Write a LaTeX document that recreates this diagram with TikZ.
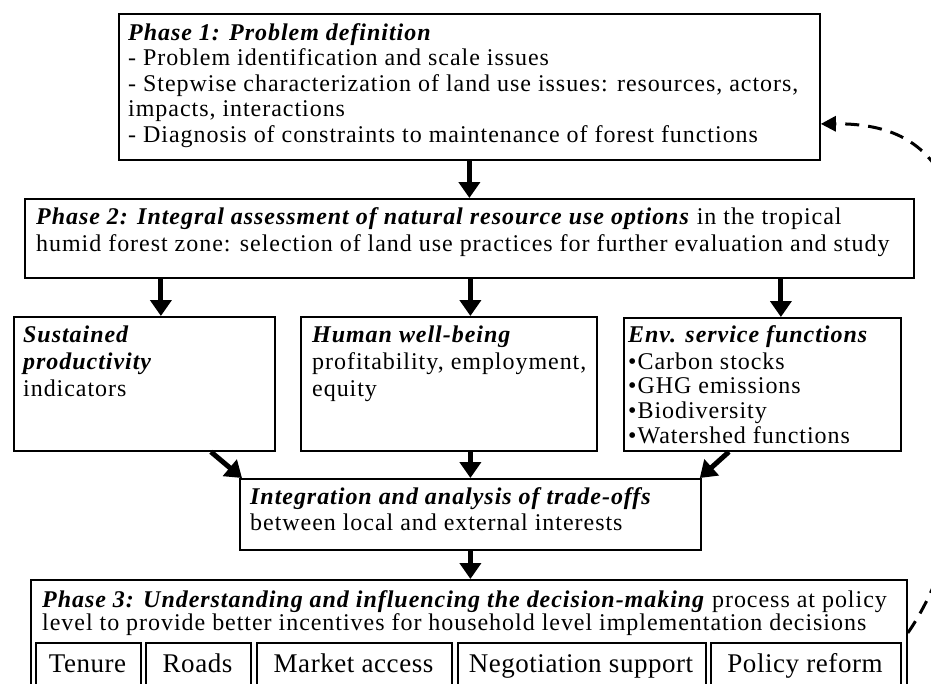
\documentclass[tikz,border=0pt]{standalone}
\usepackage{fontspec}
\setmainfont{Liberation Serif}[LetterSpace=4]
\usetikzlibrary{arrows.meta}
\newcommand{\bi}[1]{\textbf{\textit{#1}}}
\begin{document}
\begin{tikzpicture}[x=1pt,y=-1pt,
  box/.style={draw, line width=1.8pt, inner sep=0pt, anchor=north west},
  txt/.style={anchor=base west, inner sep=0pt, font=\fontsize{24}{27}\selectfont},
  subt/.style={anchor=base, inner sep=0pt, font=\fontsize{27}{30}\selectfont\addfontfeatures{LetterSpace=2}},
  arr/.style={line width=5pt, -{Triangle[width=21pt,length=16pt]}},
  darr/.style={line width=3pt, dash pattern=on 14pt off 9pt, -{Triangle[width=15pt,length=15pt]}}]
\useasboundingbox (0,0) rectangle (931,683);
\clip (0,0) rectangle (931,683);
\fill[white] (0,0) rectangle (931,683);
% boxes
\node[box, minimum width=701pt, minimum height=146pt] (p1) at (118,13) {};
\node[box, minimum width=889pt, minimum height=79pt] (p2) at (24,198) {};
\node[box, minimum width=261pt, minimum height=134pt] (sp) at (13,316) {};
\node[box, minimum width=296pt, minimum height=134pt] (hw) at (300,316) {};
\node[box, minimum width=277pt, minimum height=133pt] (es) at (623,317) {};
\node[box, minimum width=461pt, minimum height=71pt] (ia) at (239,478) {};
\node[box, minimum width=876pt, minimum height=140pt] (p3) at (30,579) {};
\node[box, minimum width=105pt, minimum height=70pt] (tn) at (35,642) {};
\node[box, minimum width=105pt, minimum height=70pt] (rd) at (145,642) {};
\node[box, minimum width=195pt, minimum height=70pt] (ma) at (256,642) {};
\node[box, minimum width=248pt, minimum height=70pt] (ns) at (457,642) {};
\node[box, minimum width=190pt, minimum height=70pt] (pr) at (710,642) {};
% texts
\node[txt] (p1a) at (128,40) {\bi{Phase 1: Problem definition}};
\node[txt] (p1b) at (128,65.5) {- Problem identification and scale issues};
\node[txt] (p1c) at (128,91) {- Stepwise characterization of land use issues: resources, actors,};
\node[txt] (p1d) at (128,116.5) {impacts, interactions};
\node[txt] (p1e) at (128,142) {- Diagnosis of constraints to maintenance of forest functions};
\node[txt] (p2a) at (36,224) {\bi{Phase 2: Integral assessment of natural resource use options} in the tropical};
\node[txt] (p2b) at (36,251) {humid forest zone: selection of land use practices for further evaluation and study};
\node[txt] (spa) at (23,342) {\bi{Sustained}};
\node[txt] (spb) at (23,369) {\bi{productivity}};
\node[txt] (spc) at (23,396) {indicators};
\node[txt] (hwa) at (312,342) {\bi{Human well-being}};
\node[txt] (hwb) at (312,369) {profitability, employment,};
\node[txt] (hwc) at (312,396) {equity};
\node[txt] (esa) at (628,342) {\bi{Env. service functions}};
\node[txt] (esb) at (628,369) {•Carbon stocks};
\node[txt] (esc) at (628,393) {•GHG emissions};
\node[txt] (esd) at (628,418) {•Biodiversity};
\node[txt] (ese) at (628,443) {•Watershed functions};
\node[txt] (iaa) at (250,504) {\bi{Integration and analysis of trade-offs}};
\node[txt] (iab) at (250,530) {between local and external interests};
\node[txt] (p3a) at (42,607) {\bi{Phase 3: Understanding and influencing the decision-making} process at policy};
\node[txt] (p3b) at (42,630) {level to provide better incentives for household level implementation decisions};
\node[subt] (tnt) at (87.5,672) {Tenure};
\node[subt] (rdt) at (197.5,672) {Roads};
\node[subt] (mat) at (353.5,672) {Market access};
\node[subt] (nst) at (581,672) {Negotiation support};
\node[subt] (prt) at (805,672) {Policy reform};
% arrows
\draw[arr] (p1.south) -- (p1.south |- p2.north);
\draw[arr] ([xshift=16.5pt]sp.north |- p2.south) -- ([xshift=16.5pt]sp.north);
\draw[arr] (ia.north |- p2.south) -- (ia.north |- hw.north);
\draw[arr] ([xshift=18.5pt]es.north |- p2.south) -- ([xshift=18.5pt]es.north);
\draw[arr] ([xshift=66.5pt]sp.south) -- ([xshift=3pt]ia.north west);
\draw[arr] ([xshift=-33.5pt]es.south) -- ([xshift=-2pt]ia.north east);
\draw[arr] (ia.north |- hw.south) -- (ia.north);
\draw[arr] (ia.south) -- (ia.south |- p3.north);
\coordinate (bulge) at (975,380);
\draw[darr] ([yshift=17pt]p3.east) .. controls (945,580) and (975,480) .. (bulge)
  .. controls (972,200) and (948,123) .. ([yshift=-37pt]p1.east);
\end{tikzpicture}
\end{document}
